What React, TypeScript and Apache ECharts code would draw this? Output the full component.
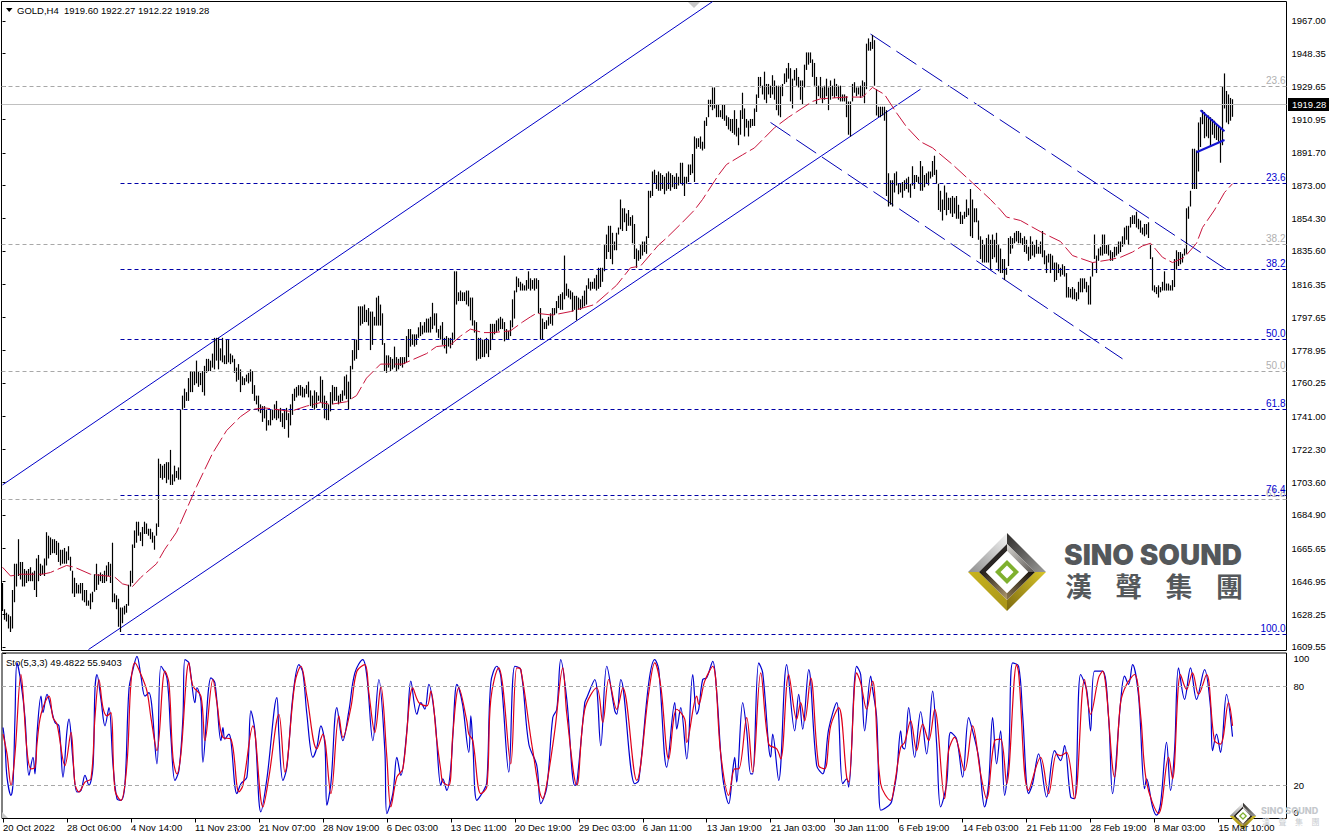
import React, { useEffect, useRef } from "react";
import * as echarts from "echarts";

const FONT = "'Liberation Sans', Arial, sans-serif";

// High / low pairs of each H4 bar
const barsA = [1646,1630,1631,1625,1629,1624,1628,1620,1627,1618,1642,1620,1657,1635,1657,1644,1671,1650,1658,1648,1658,1644,1654,1644,1653,1646,1654,1647,1655,1647,1652,1647,1653,1642,1660,1638,1662,1647,1657,1650,1656,1651,1660,1650,1675,1656,1673,1660,1672,1662,1671,1663,1671,1663,1670,1662,1669,1658,1665,1656,1665,1657,1666,1657,1664,1657,1667,1659,1661,1653,1653,1640,1649,1638,1646,1640,1645,1640,1646,1640,1646,1636,1642,1635,1642,1633,1636,1633,1640,1631,1641,1635,1651,1641,1657,1642,1651,1645,1652,1647,1651,1646,1653,1646,1656,1647,1658,1650,1657,1646,1669,1635,1640,1635,1639,1631,1637,1621,1632,1618,1632,1623,1633,1628,1634,1629,1645,1633,1653,1644,1668,1646,1676,1666,1681,1669,1681,1673,1675,1670,1678,1667,1681,1674,1680,1674,1677,1673,1677,1671,1675,1669,1673,1665,1680,1673];
const barsB = [1717,1678,1714,1706,1713,1705,1714,1706,1715,1703,1715,1705,1722,1702,1708,1702,1713,1704,1710,1706,1712,1705,1745,1705,1753,1745,1757,1746,1755,1750,1763,1750,1767,1755,1767,1755,1767,1759,1773,1760,1767,1758,1766,1759,1767,1755,1770,1753,1774,1766,1774,1767,1773,1767,1777,1769,1786,1768,1786,1773,1786,1768,1780,1773,1786,1772,1776,1771,1785,1771,1785,1772,1777,1771,1776,1772,1774,1766,1769,1761,1771,1762,1768,1755,1764,1759,1763,1759,1765,1761,1766,1760,1768,1761,1767,1754,1759,1750,1753,1748,1753,1744,1748,1743,1747,1738,1747,1740,1745,1733,1739,1736,1745,1736,1745,1739,1748,1740,1750,1739,1745,1740,1746,1738,1743,1735,1745,1734,1746,1739,1743,1729,1748,1736,1754,1742,1757,1750,1758,1752,1759,1753,1759,1753,1758,1752,1757,1752,1759,1754,1761,1752,1756,1747,1753,1746,1756,1745,1755,1746,1753,1750,1764,1749,1762,1746,1753,1740,1750,1739,1748,1739,1755,1744,1759,1748,1758,1750,1758,1750,1753,1748,1754,1749,1756,1750,1764,1753,1765,1751,1761,1745,1770,1751,1779,1768,1785,1773,1785,1774,1804,1779,1804,1793,1804,1794,1805,1795,1802,1795,1803,1793,1801,1779,1801,1782,1798,1793,1809,1793,1810,1793,1805,1793,1800,1782,1783,1767,1776,1766,1776,1769,1775,1767,1774,1768,1781,1769,1775,1767,1774,1768,1775,1770,1775,1769,1775,1771,1787,1772,1791,1775,1791,1781,1788,1782,1788,1781,1788,1782,1792,1786,1795,1787,1793,1788,1795,1789,1797,1789,1797,1789,1798,1789,1806,1791,1800,1793,1800,1789,1791,1786,1793,1785,1795,1782,1786,1780,1787,1777,1786,1781,1786,1780,1789,1782,1824,1785,1824,1805,1812,1807,1813,1807,1812,1807,1812,1807,1813,1805,1813,1804,1809,1796,1809,1793,1796,1789,1795,1773,1786,1774];
const barsC = [1786,1774,1785,1775,1785,1775,1786,1777,1785,1775,1794,1779,1794,1785,1794,1788,1796,1789,1797,1790,1798,1791,1797,1791,1795,1784,1791,1785,1790,1785,1796,1787,1808,1792,1813,1797,1821,1812,1820,1815,1818,1813,1817,1813,1816,1813,1819,1813,1824,1814,1820,1813,1819,1814,1820,1813,1820,1814,1819,1800,1803,1785,1797,1785,1795,1791,1796,1791,1798,1793,1800,1794,1803,1793,1803,1799,1807,1800,1810,1803,1811,1802,1812,1802,1833,1808,1817,1810,1814,1809,1813,1808,1812,1801,1810,1802,1810,1796,1809,1802,1808,1802,1810,1803,1813,1804,1816,1805,1820,1814,1818,1813,1818,1814,1820,1814,1822,1813,1826,1814,1826,1815,1826,1818,1839,1824,1845,1831,1850,1835,1850,1831,1846,1828,1841,1836,1846,1836,1849,1845,1865,1848,1860,1847,1860,1852,1857,1847,1859,1850,1855,1850,1856,1840,1851,1831,1837,1826,1836,1830,1839,1831,1841,1833,1841,1835,1844,1834,1870,1843,1870,1866];
const barsD = [1881,1867,1882,1874,1879,1871,1881,1870,1880,1870,1879,1871,1878,1868,1880,1870,1881,1871,1880,1870,1879,1872,1878,1871,1880,1871,1878,1873];
const barsE = [1886,1874,1886,1873,1878,1867,1878,1874,1885,1875,1885,1879,1891,1880,1901,1875,1900,1894,1900,1895,1901,1894,1898,1893,1910,1894,1912,1907,1922,1912,1922,1918,1929,1916,1929,1917,1919,1912,1919,1912,1916,1912,1919,1911,1919,1910,1913,1907,1912,1905,1911,1904,1911,1903,1916,1902,1911,1901,1906,1896,1916,1902,1926,1911,1917,1901,1911,1906,1910,1901,1911,1906,1911,1907,1917,1907,1925,1915,1935,1923,1935,1929,1930,1925,1938,1922,1931,1920,1931,1925,1930,1923,1936,1925,1933,1922,1930,1916,1930,1913,1930,1912,1931,1924,1937,1931,1940,1932,1943,1934,1940,1921,1934,1917,1939,1933,1940,1930,1935,1929,1933,1922,1933,1919,1942,1929,1949,1939,1949,1942,1949,1943,1945,1935,1943,1930,1935,1919,1930,1924,1935,1923,1929,1920,1930,1922,1934,1924,1929,1916,1933,1922,1930,1924,1934,1923,1931,1924,1930,1922,1930,1921,1925,1921,1925,1921,1924,1912,1921,1902,1921,1901,1931,1921,1932,1926,1929,1924,1929,1925,1930,1923,1933,1924,1932,1920,1954,1928,1957,1950,1955,1950,1959,1951,1956,1930,1928,1913,1918,1912,1918,1912,1918,1913,1918,1910,1916,1867,1880,1861,1876,1862,1876,1861,1880,1869,1881,1873,1874,1868,1874,1869,1875,1866,1876,1870,1877,1871,1878,1869,1874,1866,1884,1873,1879,1871,1879,1875,1878,1874,1887,1870,1884,1870,1879,1872,1880,1874,1881,1873,1881,1877,1887,1878,1890,1879,1882,1874,1874,1859,1870,1858,1865,1853,1873,1859,1869,1856,1866,1859,1866,1857,1867,1855,1866,1857,1867,1854,1862,1854,1858,1851,1856,1851,1858,1854,1865,1855,1860,1856,1871,1844,1865,1843,1860,1852,1860,1852,1853,1842,1844,1831,1842,1829,1839,1829,1843,1829,1845,1829,1842,1825,1845,1831,1842,1832,1846,1829,1839,1824];
const barsF = [1837,1823,1831,1823,1831,1819,1826,1822,1843,1827,1844,1834,1843,1837,1846,1840,1847,1841,1847,1840,1846,1840,1843,1839,1844,1835,1842,1834,1838,1830,1844,1831,1841,1833,1839,1832,1842,1834,1838,1834,1841,1834,1847,1832,1836,1828,1833,1823,1834,1829,1834,1823,1833,1825,1829,1818,1829,1819,1828,1823,1826,1821,1828,1822,1827,1821,1823,1809,1815,1809,1814,1809,1815,1808,1814,1808,1812,1807,1818,1808,1820,1812,1820,1812,1820,1814,1818,1812,1816,1805,1821,1805,1829,1821,1845,1831,1833,1823,1837,1830,1838,1833,1845,1833,1845,1834,1839,1834,1839,1833,1836,1830,1835,1830,1838,1832,1838,1833,1841,1834,1841,1835,1844,1838,1849,1839,1850,1842,1850,1839,1855,1849,1856,1851,1856,1851,1858,1849,1854,1848,1853,1846,1849,1845,1851,1844,1851,1845,1852,1843,1839,1831,1832,1813,1816,1812,1815,1811,1816,1809,1815,1812,1818,1813,1824,1813,1817,1813,1817,1813,1816,1813,1819,1813,1831,1815,1836,1825,1835,1827,1835,1828,1834,1829,1837,1833,1860,1834,1861,1854,1870,1861,1894,1871,1894,1871,1893,1871,1909,1881,1912,1895,1916,1908,1915,1900,1913,1901,1913,1900,1912,1895,1911,1902,1910,1900,1908,1899,1907,1898,1906,1886,1929.5,1896,1937,1917,1927,1909,1925,1908,1923,1910,1922.27,1912.22];
const barSegments: [number, number[]][] = [[0, barsA], [78, barsB], [239, barsC], [325, barsD], [339, barsE], [499, barsF]];

// Moving average: bar index, price
const maLine = [[0,1655],[4,1650],[9,1651],[20,1651],[24,1652],[32,1656],[36,1655],[44,1651],[56,1649.5],[60,1645.5],[65,1644],[69,1649],[77,1657],[81,1665],[87,1675],[97,1701],[105,1720],[112,1733],[119,1741],[124,1745],[131,1746],[144,1744],[152,1747],[159,1749],[164,1748],[172,1749.5],[177,1753],[182,1763],[189,1771],[200,1771],[212,1777],[217,1781],[224,1782],[229,1787],[234,1791],[240,1789],[245,1789],[254,1790],[260,1795],[264,1798],[267,1800],[275,1799],[284,1801],[290,1803],[296,1805],[307,1816],[314,1826],[319,1827],[328,1839],[332,1843],[340,1852],[346,1859],[350,1865],[358,1879],[362,1885],[370,1890.5],[376,1894.5],[386,1906],[393,1912],[397,1915],[405,1921],[409,1922.5],[422,1923.5],[430,1923.5],[435,1929],[441,1925],[447,1914.5],[452,1906.5],[459,1898],[465,1894.5],[475,1885],[485,1874.5],[494,1865],[499,1859],[502,1855],[509,1853],[520,1846],[529,1841],[535,1833],[545,1829],[553,1830.5],[559,1832],[565,1835],[570,1838.5],[574,1840],[580,1832],[585,1829],[591,1832],[597,1840],[600,1849],[606,1859],[611,1869],[615,1874]];

// Stochastic %K (blue): bar index, value
const stochK = [[0,55],[1,45],[2,25],[4,14],[5,21],[6,61],[7,94],[9,82],[11,61],[13,26],[15,37],[16,27],[17,51],[19,74],[20,64],[22,75],[24,67],[26,58],[28,56],[30,25],[32,53],[33,60],[35,35],[37,16],[39,17],[41,26],[43,20],[45,31],[46,78],[47,87],[49,72],[51,56],[53,67],[55,33],[57,12],[59,11],[61,21],[63,78],[65,90],[67,98],[69,86],[71,74],[73,76],[77,33],[79,92],[82,85],[84,49],[86,23],[88,29],[90,61],[91,96],[93,94],[96,70],[97,79],[99,71],[100,34],[104,85],[106,82],[109,47],[110,55],[111,48],[113,51],[114,47],[117,15],[119,21],[122,25],[124,65],[126,53],[129,4],[132,24],[137,73],[138,51],[140,23],[142,31],[145,74],[148,93],[150,88],[152,63],[155,37],[157,43],[159,56],[161,45],[162,8],[164,21],[167,67],[170,47],[173,65],[176,88],[180,96],[182,86],[185,47],[188,84],[191,41],[192,3],[195,15],[197,37],[199,26],[202,53],[204,83],[207,63],[209,70],[211,66],[213,81],[216,61],[219,20],[220,24],[222,17],[224,31],[227,81],[228,79],[230,68],[233,40],[234,62],[235,45],[237,11],[240,16],[242,22],[244,82],[247,92],[249,86],[253,28],[256,92],[259,90],[263,45],[267,32],[269,9],[272,19],[275,61],[277,66],[279,96],[282,72],[286,20],[287,21],[291,70],[292,73],[296,84],[299,44],[302,92],[306,65],[307,63],[309,84],[316,21],[318,23],[323,82],[326,96],[328,90],[332,31],[336,70],[337,54],[339,67],[342,36],[345,87],[347,63],[348,66],[350,84],[352,85],[355,95],[357,76],[360,25],[363,9],[365,29],[366,37],[367,22],[370,70],[372,53],[374,27],[375,27],[378,94],[380,88],[384,37],[385,51],[388,23],[392,93],[396,53],[398,75],[400,54],[403,90],[407,32],[410,27],[413,54],[417,70],[420,21],[422,24],[423,19],[427,92],[429,87],[431,53],[434,86],[435,78],[437,61],[439,5],[441,6],[444,9],[445,13],[447,27],[449,53],[450,43],[451,42],[453,67],[456,37],[459,64.5],[462,39],[465,77],[467,45],[469,7],[472,21],[474,52],[477,48],[480,25],[483,61],[485,53],[488,37],[491,7],[493,21],[495,61],[497,33],[499,53],[501,14],[503,35],[505,94],[508,92],[510,63],[513,15],[515,21],[518,39],[522,13],[526,41],[529,35],[531,44],[534,13],[536,12],[539,87],[542,78],[544,53],[546,89],[550,89],[553,61],[555,15],[559,70],[561,86],[563,81],[565,93],[568,74],[571,18],[572,24],[575,7],[577,2],[579,9],[582,46],[584,17],[586,41],[588,91],[591,72],[594,91],[597,72],[601,90],[604,67],[605,41],[607,51],[609,40],[612,75],[615,49.4822]];

// Stochastic %D (red): bar index, value
const stochD = [[0,51],[2,39],[4,20],[6,39],[9,87],[10,76],[12,41],[14,30],[16,31],[17,45],[19,63],[23,74],[25,61],[27,57],[31,32],[34,52],[36,21],[38,16],[41,22],[44,24],[46,61],[48,84],[50,67],[52,62],[54,64],[56,17],[59,11],[62,33],[64,82],[66,94],[69,87],[72,77],[74,61],[77,41],[81,89],[83,82],[85,37],[87,27],[89,39],[93,94],[95,80],[99,74],[101,47],[105,84],[107,70],[110,49],[114,48],[118,16],[120,20],[125,56],[130,7],[133,25],[138,63],[141,28],[146,82],[149,92],[152,74],[157,42],[160,51],[164,15],[168,62],[170,49],[174,67],[177,89],[181,93],[183,76],[186,52],[189,80],[192,37],[194,7],[197,25],[200,30],[205,79],[208,70],[212,68],[214,77],[217,47],[219,29],[220,22],[223,20],[225,51],[228,79],[232,59],[233,51],[235,47],[239,15],[242,19],[244,72],[248,91],[250,80],[254,33],[257,91],[259,90],[265,41],[270,12],[272,21],[276,53],[280,91],[282,63],[287,20],[291,66],[297,79],[300,58],[303,84],[307,66],[310,79],[317,23],[323,76],[326,94],[329,80],[333,36],[337,66],[341,60],[342,46],[347,74],[348,69],[351,83],[355,92],[359,39],[363,14],[366,30],[368,30],[372,61],[375,28],[379,88],[383,45],[387,42],[389,36],[393,87],[397,60],[399,70],[401,59],[404,85],[408,32],[411,30],[414,56],[418,67],[422,25],[423,22],[427,88],[429,82],[432,66],[435,83],[436,76],[439,21],[444,11],[446,21],[449,43],[451,46],[454,59],[457,41],[460,57],[463,47],[466,66],[471,12],[473,41],[476,49],[481,29],[485,56],[489,27],[492,12],[496,47],[499,48],[502,21],[507,93],[508,88],[513,17],[519,37],[523,15],[527,39],[529,38],[532,40],[536,12],[541,84],[544,63],[548,85],[550,89],[556,25],[559,70],[562,81],[566,87],[569,63],[572,22],[578,3],[583,37],[585,24],[589,87],[592,78],[595,88],[598,75],[602,87],[606,47],[609,45],[613,70],[615,55.9403]];

const priceTicks = [1967.0,1948.35,1929.65,1910.95,1891.7,1873.0,1854.3,1835.6,1816.35,1797.65,1778.95,1760.25,1741.0,1722.3,1703.6,1684.9,1665.65,1646.95,1628.25,1609.55];
const timeLabels = ["20 Oct 2022","28 Oct 06:00","4 Nov 14:00","11 Nov 23:00","21 Nov 07:00","28 Nov 19:00","6 Dec 03:00","13 Dec 11:00","20 Dec 19:00","29 Dec 03:00","6 Jan 11:00","13 Jan 19:00","21 Jan 03:00","30 Jan 11:00","6 Feb 19:00","14 Feb 03:00","21 Feb 11:00","28 Feb 19:00","8 Mar 03:00","15 Mar 10:00"];
const lastPrice = 1919.28;

const blueFibLevels: [string, number][] = [["23.6",1874],["38.2",1825.1],["50.0",1785.2],["61.8",1745.2],["76.4",1696.1],["100.0",1616.7]];
const grayFibLevels: [string, number][] = [["23.6",1929.5],["38.2",1839.4],["50.0",1766.9],["61.8",1693.7]];
const channelUp1 = [[0,1702],[355,1978]];
const channelUp2 = [[43,1608],[459,1928]];
const channelDown1 = [[434,1959.5],[612,1825]];
const channelDown2 = [[384,1909],[560,1774]];
const triangleTop = [[599,1916],[611,1904]];
const triangleBottom = [[597,1892],[611,1899]];

const GRID_BLUE = "#0000a8";
const GRAY = "#a8a8a8";

function lineSeries(data: number[][], color: string, width: number, type: any, axis = 0): any {
  return {
    type: "line", data, xAxisIndex: axis, yAxisIndex: axis, symbol: "none", silent: true,
    lineStyle: { color, width, type }, z: 3,
  };
}

function fibSeries(levels: [string, number][], color: string, labelColor: string, fromBar: number | null): any {
  return {
    type: "line", data: [], xAxisIndex: 0, yAxisIndex: 0, silent: true, z: 1,
    markLine: {
      silent: true, symbol: ["none", "none"], animation: false,
      lineStyle: { color, width: 1, type: [4, 3] },
      label: {
        position: "insideEndTop", distance: [1, 1], color: labelColor,
        fontFamily: FONT, fontSize: 10,
        formatter: (p: any) => p.name,
      },
      data: levels.map(([name, v]) => [
        { name, coord: [fromBar === null ? -0.5 : fromBar, v] },
        { coord: [642, v] },
      ]),
    },
  };
}

function diamond(r: number) { return [[-r, 0], [0, -r], [r, 0], [0, r]]; }
function logo(x: number, y: number, s: number): any {
  const poly = (points: number[][], fill: any) => ({ type: "polygon", shape: { points }, style: { fill }, silent: true });
  const lg = (x0: number, y0: number, x2: number, y2: number, a: string, b: string) =>
    new echarts.graphic.LinearGradient(x0, y0, x2, y2, [{ offset: 0, color: a }, { offset: 1, color: b }]);
  const R = 39, M = 28, I = 21;
  return {
    type: "group", x, y, scaleX: s, scaleY: s, z: 2,
    children: [
      poly([[-R,0],[0,-R],[0,-M],[-M,0]], lg(0,1,1,0,"#8f8f8f","#f4f4f4")),
      poly([[0,-R],[R,0],[M,0],[0,-M]], lg(0,0,1,1,"#2e2c2a","#9a9a98")),
      poly([[-R,0],[-M,0],[0,M],[0,R]], lg(0,0,1,1,"#c9b41e","#a89418")),
      poly([[R,0],[M,0],[0,M],[0,R]], lg(1,0,0,1,"#d8c52a","#7d6a10")),
      poly([[-M,0],[0,-M],[0,-I],[-I,0]], "#2a2624"),
      poly([[0,-M],[M,0],[I,0],[0,-I]], lg(0,0,1,1,"#d8d6d2","#5a5652")),
      poly([[-M,0],[-I,0],[0,I],[0,M]], lg(0,0,1,1,"#1c1814","#b09a70")),
      poly([[M,0],[I,0],[0,I],[0,M]], lg(1,0,0,1,"#14100c","#8a7650")),
      poly(diamond(I), "#ffffff"),
      poly(diamond(12), "#7fb02e"),
      poly(diamond(6.5), "#ffffff"),
    ],
  };
}

export default function App() {
  const ref = useRef<HTMLDivElement>(null);
  useEffect(() => {
    const chart = echarts.init(ref.current!, undefined, { renderer: "svg" });
    const barData: number[][] = [];
    barSegments.forEach(([start, flat]) => {
      for (let k = 0; k + 1 < flat.length; k += 2) barData.push([start + k / 2, flat[k], flat[k + 1]]);
    });
    const xBase = { type: "value", min: -0.5, max: 642, splitLine: { show: false } };
    const axisText = { fontFamily: FONT, fontSize: 9.5, color: "#000" };
    chart.setOption({
      animation: false,
      backgroundColor: "#fff",
      grid: [
        { left: 1.5, top: 1.5, width: 1285, height: 649, show: true, borderColor: "#000", borderWidth: 1, backgroundColor: "#fff" },
        { left: 1.5, top: 653, width: 1285, height: 165.5, show: true, borderColor: "#000", borderWidth: 1, backgroundColor: "#fff" },
      ],
      xAxis: [
        { ...xBase, gridIndex: 0, show: false },
        {
          ...xBase, gridIndex: 1, position: "bottom",
          axisLine: { show: false },
          axisTick: { show: true, length: 4, inside: false, lineStyle: { color: "#000" }, customValues: timeLabels.map((_, k) => k * 32) },
          axisLabel: {
            ...axisText, margin: 4, align: "left", showMinLabel: true, showMaxLabel: true,
            customValues: timeLabels.map((_, k) => k * 32),
            formatter: (v: number) => timeLabels[Math.round(v / 32)] ?? "",
          },
        },
      ],
      yAxis: [
        {
          type: "value", gridIndex: 0, position: "right", min: 1607.44, max: 1978.08, splitLine: { show: false },
          axisLine: { show: false },
          axisTick: { show: true, length: 3, lineStyle: { color: "#000" }, customValues: priceTicks },
          axisLabel: { ...axisText, margin: 5, customValues: priceTicks, formatter: (v: number) => v.toFixed(2) },
        },
        {
          type: "value", gridIndex: 1, position: "right", min: 0, max: 100, splitLine: { show: false },
          axisLine: { show: false },
          axisTick: { show: true, length: 3, lineStyle: { color: "#000" }, customValues: [100, 80, 20, 0] },
          axisLabel: {
            ...axisText, margin: 7, customValues: [96.4, 80, 20, 3.6],
            formatter: (v: number) => (v > 90 ? "100" : v < 10 ? "0" : String(v)),
          },
        },
      ],
      series: [
        fibSeries(grayFibLevels, GRAY, "#b0b0b0", null),
        fibSeries(blueFibLevels, GRID_BLUE, "#0000d0", 59),
        {
          type: "line", data: [], xAxisIndex: 0, yAxisIndex: 0, silent: true, z: 1,
          markLine: {
            silent: true, symbol: ["none", "none"], animation: false,
            lineStyle: { color: "#c0c0c0", width: 1, type: "solid" },
            label: {
              position: "end", distance: 1.5, color: "#fff", backgroundColor: "#000",
              fontFamily: FONT, fontSize: 9.5, padding: [2, 5, 1, 4], formatter: lastPrice.toFixed(2),
            },
            data: [{ yAxis: lastPrice }],
          },
        },
        lineSeries(channelUp1, "#0000c8", 1, "solid"),
        lineSeries(channelUp2, "#0000c8", 1, "solid"),
        lineSeries(channelDown1, "#0000b4", 1, [24, 7]),
        lineSeries(channelDown2, "#0000b4", 1, [24, 7]),
        {
          type: "custom", xAxisIndex: 0, yAxisIndex: 0, data: barData, silent: true, z: 4,
          encode: { x: 0, y: [1, 2] },
          renderItem: (_: any, api: any) => {
            const i = api.value(0);
            const hi = api.coord([i, api.value(1)]);
            const lo = api.coord([i, api.value(2)]);
            return { type: "line", shape: { x1: hi[0], y1: hi[1], x2: lo[0], y2: lo[1] }, style: { stroke: "#000", lineWidth: 1.2 } };
          },
        },
        { ...lineSeries(maLine, "#c8143c", 1, [16, 4]), z: 5 },
        { ...lineSeries(triangleTop, "#1414d2", 2, "solid"), z: 6 },
        { ...lineSeries(triangleBottom, "#1414d2", 2, "solid"), z: 6 },
        {
          type: "line", data: [], xAxisIndex: 1, yAxisIndex: 1, silent: true, z: 1,
          markLine: {
            silent: true, symbol: ["none", "none"], animation: false, label: { show: false },
            lineStyle: { color: GRAY, width: 1, type: [4, 3] },
            data: [{ yAxis: 80 }, { yAxis: 20 }],
          },
        },
        { ...lineSeries(stochK, "#0000d0", 1.2, "solid", 1), z: 3, smooth: 0.35 },
        { ...lineSeries(stochD, "#e00018", 1.2, "solid", 1), z: 4, smooth: 0.35 },
      ],
      graphic: [
        { type: "polygon", shape: { points: [[6, 8], [12.5, 8], [9.2, 12]] }, style: { fill: "#000" }, silent: true },
        { type: "text", x: 17, y: 10.5, style: { text: "GOLD,H4  1919.60 1922.27 1912.22 1919.28", fontFamily: FONT, fontSize: 9.5, fill: "#000", verticalAlign: "middle" }, silent: true },
        { type: "text", x: 6, y: 662, style: { text: "Sto(5,3,3) 49.4822 55.9403", fontFamily: FONT, fontSize: 9.5, fill: "#000", verticalAlign: "middle" }, silent: true },
        { type: "polygon", shape: { points: [[688, 2], [700, 2], [694, 8]] }, style: { fill: "#c8c8c8" }, silent: true },
        { type: "polygon", shape: { points: [[2, 812], [8, 818], [2, 818]] }, style: { fill: "#c8c8c8" }, silent: true },
        logo(1007, 572, 1),
        { type: "text", x: 1064, y: 555, z: 2, style: { text: "SINO SOUND", fontFamily: "Inter, 'Open Sans', sans-serif", fontWeight: 900, fontSize: 28, fill: "#54585b", verticalAlign: "middle" }, silent: true },
        ...["漢", "聲", "集", "團"].map((ch, k) => ({
          type: "text", x: 1065 + k * 50.3, y: 585, z: 2,
          style: { text: ch, fontFamily: "'Noto Sans CJK TC', sans-serif", fontWeight: 700, fontSize: 27, fill: "#54585b", verticalAlign: "middle" }, silent: true,
        })),
        logo(1243, 816, 0.34),
        { type: "text", x: 1261, y: 810, z: 7, style: { text: "SINO SOUND", fontFamily: "Inter, sans-serif", fontWeight: 800, fontSize: 9, fill: "#c4c8cc", verticalAlign: "middle" }, silent: true },
        ...["漢", "聲", "集", "團"].map((ch, k) => ({
          type: "text", x: 1262 + k * 16.5, y: 821, z: 7,
          style: { text: ch, fontFamily: "'Noto Sans CJK TC', sans-serif", fontSize: 8, fill: "#c8ccd0", verticalAlign: "middle" }, silent: true,
        })),
      ],
    });
    return () => chart.dispose();
  }, []);
  return <div ref={ref} style={{ position: "absolute", left: 0, top: 0, width: 1329, height: 837, background: "#fff" }} />;
}
